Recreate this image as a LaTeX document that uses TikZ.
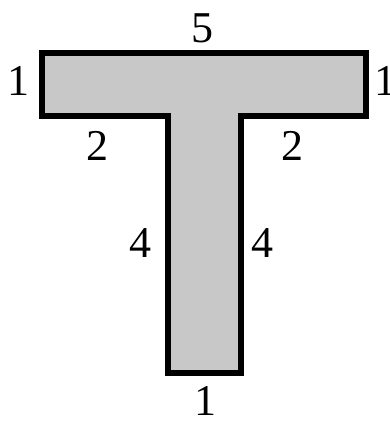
\documentclass[tikz,border=0pt]{standalone}
\usepackage{fontspec}
\setmainfont{Liberation Serif}
\usepackage{xcolor}
\usetikzlibrary{positioning}
\definecolor{Steel}{HTML}{C8C8C8}

\begin{document}
\begin{tikzpicture}[
  x=1pt,y=-1pt,
  beam/.style={draw=black,line width=6pt,fill=Steel,line join=miter},
  dim/.style={inner sep=0pt,font=\fontsize{44}{50}\selectfont}
]
  \useasboundingbox (0,0) rectangle (390,425);
  % outline of the section
  \draw[beam] (41.5,53.5) -- (366,53.5) -- (366,116) -- (240.5,116) -- (240.5,373)
    -- (167.5,373) -- (167.5,116) -- (41.5,116) -- cycle;
  % side lengths
  \node[dim] (top) at (202,28) {5};
  \node[dim] (left) at (19,81) {1};
  \node[dim] (right) at (385,81) {1};
  \node[dim] (ledge) at (97,146) {2};
  \node[dim] (redge) at (292,146) {2};
  \node[dim] (lstem) at (140,243) {4};
  \node[dim] (rstem) at (262,243) {4};
  \node[dim] (foot) at (205,401) {1};
\end{tikzpicture}
\end{document}
